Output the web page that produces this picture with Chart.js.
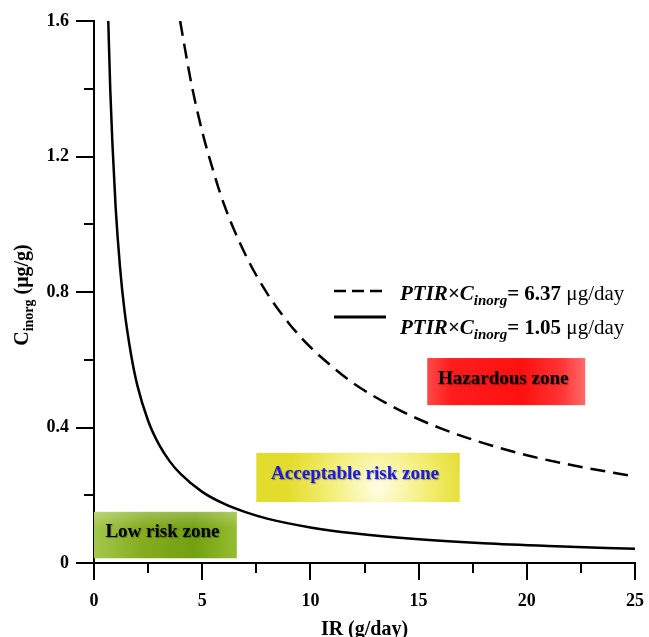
<!DOCTYPE html>
<html>
<head>
<meta charset="utf-8">
<script src="https://cdn.jsdelivr.net/npm/chart.js@4/dist/chart.umd.min.js"></script>
<style>
  html, body { margin: 0; padding: 0; background: #fff; }
  #wrap { position: relative; width: 649px; height: 637px; }
</style>
</head>
<body>
<div id="wrap"><canvas id="riskChart" width="649" height="637"></canvas></div>
<script>
// values
const solidX = [0.66, 0.75, 0.85, 1.0, 1.2, 1.4, 1.7, 2.0, 2.5, 3.0, 3.5, 4.0, 5.0, 6.0, 7.0, 8.0, 10, 12, 15, 18, 21, 25];
const solidY = [1.6, 1.40, 1.24, 1.05, 0.875, 0.75, 0.62, 0.525, 0.42, 0.35, 0.30, 0.263, 0.21, 0.175, 0.15, 0.131, 0.105, 0.0875, 0.07, 0.058, 0.05, 0.042];
const dashedX = [3.98, 4.5, 5, 5.5, 6, 7, 8, 9, 10, 11, 12, 14, 16, 18, 20, 22, 25];
const dashedY = [1.6, 1.415, 1.274, 1.16, 1.06, 0.91, 0.796, 0.708, 0.637, 0.58, 0.53, 0.455, 0.398, 0.354, 0.318, 0.29, 0.255];

const xTicks = [0, 5, 10, 15, 20, 25];
const yTicks = [0, 0.4, 0.8, 1.2, 1.6];
const seriesNames = ['6.37', '1.05'];
const zoneLabels = ['Low risk zone', 'Acceptable risk zone', 'Hazardous zone'];

const serif = "'Liberation Serif', 'Times New Roman', serif";

function pts(xs, ys) {
    return xs.map((x, i) => ({ x: x, y: ys[i] }));
}

// zones given in data units (x0, x1, y0, y1)
const zones = [
    { x0: 0, x1: 6.6, y0: 0.014, y1: 0.151, text: zoneLabels[0], color: '#000', kind: 'green' },
    { x0: 7.5, x1: 16.9, y0: 0.180, y1: 0.325, text: zoneLabels[1], color: '#1a1ae6', kind: 'yellow' },
    { x0: 15.4, x1: 22.7, y0: 0.466, y1: 0.605, text: zoneLabels[2], color: '#000', kind: 'red' }
];

function zoneFill(ctx, kind, l, t, w, h) {
    let g;
    if (kind === 'green') {
        g = ctx.createLinearGradient(l, 0, l + w, 0);
        g.addColorStop(0, '#a3c84c');
        g.addColorStop(0.35, '#84ab1e');
        g.addColorStop(0.7, '#73a012');
        g.addColorStop(1, '#95bd30');
    } else if (kind === 'yellow') {
        g = ctx.createRadialGradient(l + w * 0.6, t + h * 0.7, 2, l + w * 0.6, t + h * 0.7, w * 0.45);
        g.addColorStop(0, '#fffde0');
        g.addColorStop(0.5, '#f4ef7a');
        g.addColorStop(1, '#e3dc2c');
    } else {
        g = ctx.createLinearGradient(l, 0, l + w, 0);
        g.addColorStop(0, '#ff4848');
        g.addColorStop(0.15, '#ff1c1c');
        g.addColorStop(0.6, '#ff1010');
        g.addColorStop(0.85, '#ff3434');
        g.addColorStop(1, '#ff6a6a');
    }
    ctx.fillStyle = g;
    ctx.fillRect(l, t, w, h);
    if (kind === 'green') {
        const v = ctx.createLinearGradient(0, t, 0, t + h);
        v.addColorStop(0, 'rgba(255,255,255,0.25)');
        v.addColorStop(0.35, 'rgba(255,255,255,0)');
        ctx.fillStyle = v;
        ctx.fillRect(l, t, w, h);
    }
}

const zonePlugin = {
    id: 'zones',
    beforeDatasetsDraw(chart) {
        const ctx = chart.ctx;
        const xs = chart.scales.x, ys = chart.scales.y;
        ctx.save();
        zones.forEach(z => {
            const l = xs.getPixelForValue(z.x0), r = xs.getPixelForValue(z.x1);
            const t = ys.getPixelForValue(z.y1), b = ys.getPixelForValue(z.y0);
            zoneFill(ctx, z.kind, l, t, r - l, b - t);
            ctx.font = 'bold 19px ' + serif;
            ctx.textAlign = 'center';
            ctx.textBaseline = 'middle';
            ctx.shadowColor = 'rgba(0,0,0,0.35)';
            ctx.shadowOffsetX = 1;
            ctx.shadowOffsetY = 1;
            ctx.shadowBlur = 1;
            ctx.fillStyle = z.color;
            ctx.fillText(z.text, (l + r) / 2 - 3, (t + b) / 2 - 3);
            ctx.shadowColor = 'transparent';
        });
        ctx.restore();
    }
};

// draw a run of text pieces, each with its own font and baseline shift
function drawPieces(ctx, x, y, pieces) {
    pieces.forEach(p => {
        ctx.font = p.font;
        ctx.fillText(p.t, x, y + (p.dy || 0));
        x += ctx.measureText(p.t).width;
    });
    return x;
}

const decorPlugin = {
    id: 'decor',
    afterDraw(chart) {
        const ctx = chart.ctx;
        const xs = chart.scales.x, ys = chart.scales.y;
        const area = chart.chartArea;
        ctx.save();
        // minor ticks
        ctx.strokeStyle = '#000';
        ctx.lineWidth = 2;
        ctx.beginPath();
        for (let v = 2.5; v < 25; v += 5) {
            const px = Math.round(xs.getPixelForValue(v));
            ctx.moveTo(px, area.bottom);
            ctx.lineTo(px, area.bottom + 10);
        }
        for (let v = 0.2; v < 1.6; v += 0.4) {
            const py = Math.round(ys.getPixelForValue(v));
            ctx.moveTo(area.left, py);
            ctx.lineTo(area.left - 10, py);
        }
        ctx.stroke();

        ctx.fillStyle = '#000';
        ctx.textBaseline = 'alphabetic';
        ctx.textAlign = 'left';

        // x title
        ctx.font = 'bold 20px ' + serif;
        ctx.textAlign = 'center';
        ctx.fillText('IR (g/day)', (area.left + area.right) / 2, 635);
        ctx.textAlign = 'left';

        // y title, rotated
        ctx.save();
        ctx.translate(28, 295);
        ctx.rotate(-Math.PI / 2);
        const yPieces = [
            { t: 'C', font: 'bold 20px ' + serif },
            { t: 'inorg', font: 'bold 14px ' + serif, dy: 5 },
            { t: ' (\u03bcg/g)', font: 'bold 20px ' + serif }
        ];
        let w = 0;
        yPieces.forEach(p => { ctx.font = p.font; w += ctx.measureText(p.t).width; });
        drawPieces(ctx, -w / 2, 0, yPieces);
        ctx.restore();

        // legend
        const lx0 = 334, lx1 = 386;
        ctx.lineWidth = 2.5;
        ctx.setLineDash([12, 6]);
        ctx.beginPath();
        ctx.moveTo(lx0, 291);
        ctx.lineTo(lx1, 291);
        ctx.stroke();
        ctx.setLineDash([]);
        ctx.lineWidth = 3;
        ctx.beginPath();
        ctx.moveTo(lx0, 317);
        ctx.lineTo(lx1, 317);
        ctx.stroke();

        const rows = [300, 334];
        seriesNames.forEach((val, i) => {
            drawPieces(ctx, 400, rows[i], [
                { t: 'PTIR\u00d7C', font: 'italic bold 21px ' + serif },
                { t: 'inorg', font: 'italic bold 15px ' + serif, dy: 5 },
                { t: '= ' + val + ' ', font: 'bold 21px ' + serif },
                { t: '\u03bcg/day', font: '21px ' + serif }
            ]);
        });
        ctx.restore();
    }
};

const ctx = document.getElementById('riskChart').getContext('2d');
new Chart(ctx, {
    type: 'line',
    data: {
        datasets: [{
            label: seriesNames[0],
            data: pts(dashedX, dashedY),
            borderColor: '#000',
            borderWidth: 2.5,
            borderDash: [15, 8],
            pointRadius: 0,
            cubicInterpolationMode: 'monotone',
            fill: false
        }, {
            label: seriesNames[1],
            data: pts(solidX, solidY),
            borderColor: '#000',
            borderWidth: 2.5,
            pointRadius: 0,
            cubicInterpolationMode: 'monotone',
            fill: false
        }]
    },
    options: {
        responsive: false,
        animation: false,
        events: [],
        layout: { padding: { top: 21, right: 14, left: 0, bottom: 0 } },
        plugins: {
            legend: { display: false },
            tooltip: { enabled: false }
        },
        scales: {
            x: {
                type: 'linear',
                min: 0,
                max: 25,
                afterFit(scale) {
                    scale.height = 74;
                    scale.paddingLeft = 0;
                    scale.paddingRight = 0;
                },
                afterBuildTicks(scale) { scale.ticks = xTicks.map(v => ({ value: v })); },
                grid: { drawOnChartArea: false, color: '#000', lineWidth: 2, tickLength: 17 },
                border: { display: true, color: '#000', width: 2 },
                ticks: {
                    color: '#000',
                    padding: 11,
                    maxRotation: 0,
                    font: { family: serif, size: 18, weight: 'bold' }
                }
            },
            y: {
                type: 'linear',
                min: 0,
                max: 1.6,
                afterFit(scale) {
                    scale.width = 94;
                    scale.paddingTop = 0;
                    scale.paddingBottom = 0;
                },
                afterBuildTicks(scale) { scale.ticks = yTicks.map(v => ({ value: v })); },
                grid: { drawOnChartArea: false, color: '#000', lineWidth: 2, tickLength: 18 },
                border: { display: true, color: '#000', width: 2 },
                ticks: {
                    color: '#000',
                    padding: 7,
                    callback: v => (v === 0 ? '0' : v.toFixed(1)),
                    font: { family: serif, size: 18, weight: 'bold' }
                }
            }
        }
    },
    plugins: [zonePlugin, decorPlugin]
});
</script>
</body>
</html>
